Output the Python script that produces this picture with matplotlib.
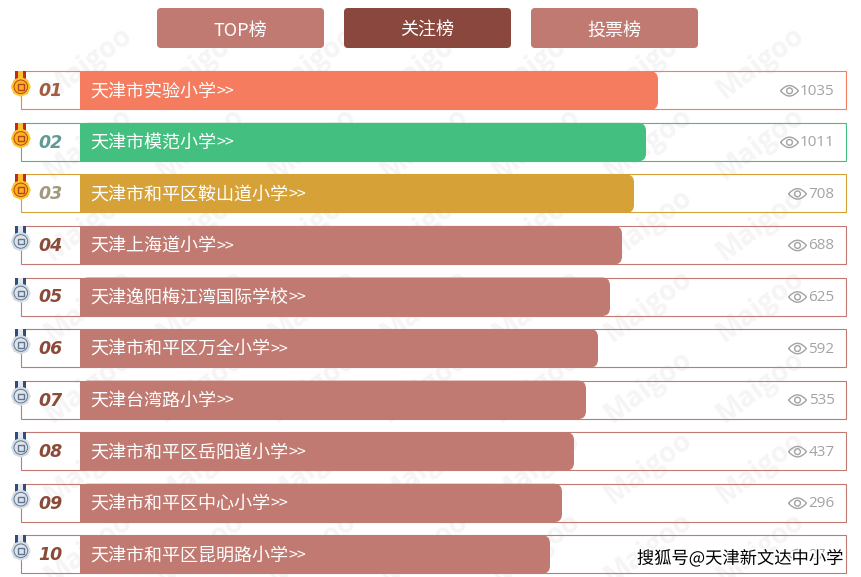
import matplotlib
matplotlib.use("Agg")
import matplotlib.pyplot as plt
import matplotlib.patheffects as pe
from matplotlib.patches import Rectangle, FancyBboxPatch, Circle, RegularPolygon, PathPatch
from matplotlib.path import Path

plt.rcParams['font.family'] = ['Noto Sans CJK SC', 'DejaVu Sans']

# Data
schools = ["天津市实验小学", "天津市模范小学", "天津市和平区鞍山道小学", "天津上海道小学",
           "天津逸阳梅江湾国际学校", "天津市和平区万全小学", "天津台湾路小学",
           "天津市和平区岳阳道小学", "天津市和平区中心小学", "天津市和平区昆明路小学"]
ranks = ["01", "02", "03", "04", "05", "06", "07", "08", "09", "10"]
views = [1035, 1011, 708, 688, 625, 592, 535, 437, 296, 276]
# bars do not follow the views, each one is just 12 px shorter than the one before
bar_lengths = [578, 566, 554, 542, 530, 518, 506, 494, 482, 470]
tabs = ["TOP榜", "关注榜", "投票榜"]

# Colors
row_colors = ['#f67c5f', '#43c07f', '#d6a238'] + ['#c17a71']*7
rank_colors = ['#a35c42', '#5f9a96', '#a3997c'] + ['#8c4a38']*7
tab_colors = ['#c17a71', '#8a473d', '#c17a71']

fig = plt.figure(figsize=(8.62, 5.77), dpi=100)
ax = fig.add_axes([0, 0, 1, 1])
ax.set_xlim(0, 862)
ax.set_ylim(577, 0)
ax.axis('off')

# Watermark, a tiled grid under everything
for j in range(7):
    for i in range(7):
        ax.text(760 - 112*i, 63 + 81*j, "Maigoo", family='Open Sans', weight='bold', fontsize=20,
                color='#f5f5f5', rotation=37, ha='center', va='center', zorder=0, clip_on=True)

# Tabs on top
for i in range(3):
    x0 = 157 + 187*i
    ax.add_patch(FancyBboxPatch((x0 + 4, 12), 159, 32, boxstyle="round,pad=4,rounding_size=4",
                                facecolor=tab_colors[i], edgecolor='none', zorder=2))
    ax.text(x0 + 83, 30.5, tabs[i], color='white', fontsize=13, ha='center', va='center', zorder=3)


def draw_medal(cy, gold):
    # ribbon, then the body of the medal
    if gold:
        ribbon, mid, outer, inner, dark = '#c8261c', '#f3c331', '#fdc52a', '#fbb21e', '#b5441c'
    else:
        ribbon, mid, outer, inner, dark = '#2f4f7a', '#e4e8ee', '#d5dce4', '#dfe4ea', '#5f7590'
    ax.add_patch(Rectangle((15, cy - 15.5), 11, 10, facecolor=ribbon, edgecolor='none', zorder=5))
    ax.add_patch(Rectangle((18, cy - 15.5), 5, 10, facecolor=mid, edgecolor='none', zorder=5))
    ax.add_patch(RegularPolygon((20.8, cy), 8, radius=10, facecolor=outer, edgecolor='none', zorder=6))
    ax.add_patch(Circle((20.8, cy), 6.8, facecolor=inner, edgecolor=dark, linewidth=0.7, zorder=7))
    ax.add_patch(Rectangle((17.8, cy - 2.5), 6, 5.5, facecolor='none', edgecolor=dark, linewidth=1.0, zorder=8))


def draw_eye(cx, cy):
    w, h = 9, 10.5
    verts = [(cx - w, cy), (cx, cy - h), (cx + w, cy), (cx, cy + h), (cx - w, cy)]
    codes = [Path.MOVETO, Path.CURVE3, Path.CURVE3, Path.CURVE3, Path.CURVE3]
    ax.add_patch(PathPatch(Path(verts, codes), facecolor='none', edgecolor='#a3a3a3', linewidth=1.0, zorder=3))
    ax.add_patch(Circle((cx, cy), 2.9, facecolor='none', edgecolor='#a3a3a3', linewidth=1.0, zorder=3))


# The rows
for i in range(len(schools)):
    top = 71.3 + 51.55*i
    height = 38
    mid = top + height/2
    color = row_colors[i]

    ax.add_patch(Rectangle((21.5, top), 824.8, height, facecolor='none', edgecolor=color, linewidth=0.8, zorder=1))
    ax.add_patch(Rectangle((80, top), 20, height + 0.5, facecolor=color, edgecolor='none', zorder=2))
    ax.add_patch(FancyBboxPatch((88, top + 8), bar_lengths[i] - 16, height - 15.5,
                                boxstyle="round,pad=8,rounding_size=8",
                                facecolor=color, edgecolor='none', zorder=2))

    ax.text(90.5, mid + 2, schools[i], color='white', fontsize=13, ha='left', va='center', zorder=3)
    ax.text(90.5 + 18*len(schools[i]), mid + 1.5, ">>", color='white', fontsize=11.5, ha='left', va='center', zorder=3)
    ax.text(50.5, mid + 1, ranks[i], family='DejaVu Sans', weight='bold', style='italic', fontsize=12.5,
            color=rank_colors[i], ha='center', va='center', zorder=3)

    text_w = 8*len(str(views[i]))
    ax.text(834.5, mid + 1, str(views[i]), family='Open Sans', fontsize=11, color='#a3a3a3',
            ha='right', va='center', zorder=3)
    draw_eye(834 - text_w - 12.5, mid + 0.5)

    draw_medal(top + 15.5, i < 3)

# Source label in the corner
ax.text(843, 558.5, "搜狐号@天津新文达中小学", color='black', fontsize=12.45, ha='right', va='center', zorder=9,
        path_effects=[pe.withStroke(linewidth=2.2, foreground='white')])

plt.savefig("out.png", dpi=100)
